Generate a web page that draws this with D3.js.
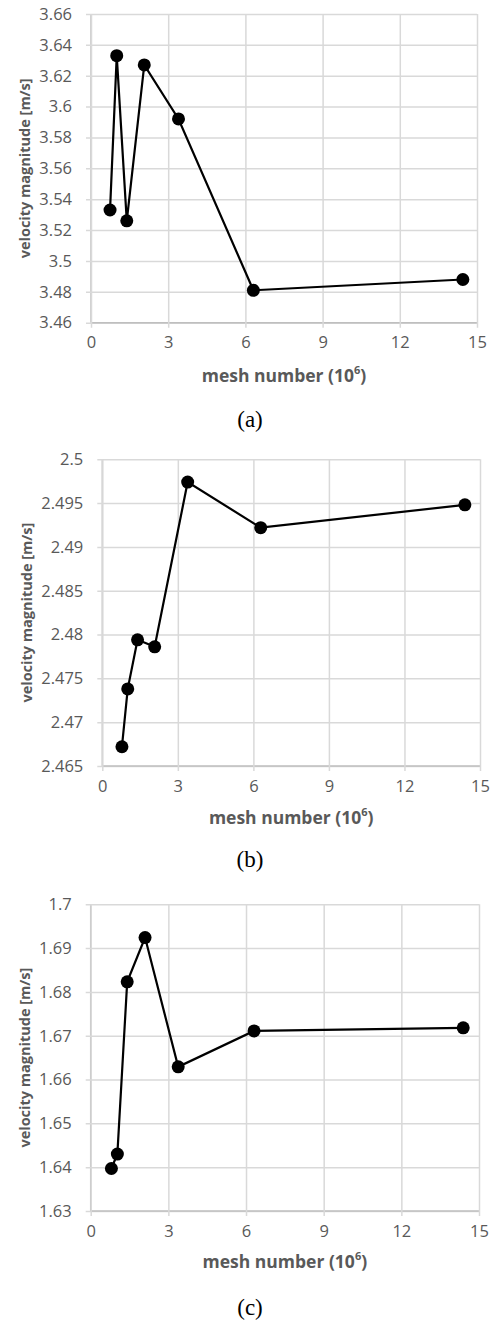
<!DOCTYPE html>
<meta charset="utf-8">
<title>Velocity magnitude vs mesh number</title>
<style>
    body {
        margin: 0;
        background: #fff;
    }

    svg {
        display: block;
    }

    .grid line {
        stroke: #d9d9d9;
        stroke-width: 1.5px;
    }

    .grid path {
        stroke: #bfbfbf;
        stroke-width: 1.5px;
    }

    .tick text {
        fill: #595959;
        font-family: "Open Sans", sans-serif;
        font-size: 16.5px;
    }

    .title {
        fill: #595959;
        font-family: "Open Sans", sans-serif;
        font-weight: bold;
    }

    .caption {
        fill: #000;
        font-family: "Liberation Serif", serif;
        font-size: 23px;
    }
</style>

<body>
    <svg width="492" height="1323"></svg>

    <script src="https://d3js.org/d3.v7.min.js"></script>
    <script>
        // mesh number (10^6), read per panel
        const meshA = [0.74, 1.0, 1.39, 2.07, 3.40, 6.31, 14.45];
        const meshB = [0.78, 1.01, 1.40, 2.08, 3.39, 6.29, 14.40];
        const meshC = [0.80, 1.03, 1.41, 2.10, 3.38, 6.31, 14.39];

        // velocity magnitude [m/s]
        const velA = [3.533, 3.633, 3.526, 3.627, 3.592, 3.481, 3.488];
        const velB = [2.4672, 2.4738, 2.4794, 2.4786, 2.4974, 2.4922, 2.4948];
        const velC = [1.6397, 1.6430, 1.6823, 1.6924, 1.6629, 1.6711, 1.6718];

        // tick labels
        const xTicks = [0, 3, 6, 9, 12, 15];
        const yTicksA = [3.46, 3.48, 3.5, 3.52, 3.54, 3.56, 3.58, 3.6, 3.62, 3.64, 3.66];
        const yTicksB = [2.465, 2.47, 2.475, 2.48, 2.485, 2.49, 2.495, 2.5];
        const yTicksC = [1.63, 1.64, 1.65, 1.66, 1.67, 1.68, 1.69, 1.7];

        const captions = ["(a)", "(b)", "(c)"];

        const panels = [
            { x: meshA, y: velA, yTicks: yTicksA, left: 91, right: 477, top: 14, bottom: 322.7, xTitleY: 377, capY: 422, yTitleX: 26 },
            { x: meshB, y: velB, yTicks: yTicksB, left: 102.3, right: 480, top: 459.3, bottom: 766, xTitleY: 819, capY: 862, yTitleX: 28 },
            { x: meshC, y: velC, yTicks: yTicksC, left: 90.7, right: 479, top: 904.3, bottom: 1211, xTitleY: 1263, capY: 1310, yTitleX: 26 }
        ];

        const svg = d3.select("svg");

        panels.forEach((p, i) => {
            const w = p.right - p.left;
            const h = p.bottom - p.top;
            const x = d3.scaleLinear().domain([0, 15]).range([0, w]);
            const y = d3.scaleLinear().domain(d3.extent(p.yTicks)).range([h, 0]);
            const fmt = d => String(+d.toFixed(3));

            const g = svg.append("g").attr("transform", `translate(${p.left},${p.top})`);

            // horizontal grid + left axis
            const gy = g.append("g").attr("class", "grid")
                .call(d3.axisLeft(y).tickValues(p.yTicks).tickFormat(fmt).tickSize(-w).tickPadding(19));
            gy.selectAll(".tick line").attr("x1", -5);
            gy.select(".domain").attr("d", `M0,0V${h}`);

            // vertical grid + bottom axis
            const gx = g.append("g").attr("class", "grid")
                .attr("transform", `translate(0,${h})`)
                .call(d3.axisBottom(x).tickValues(xTicks).tickSize(-h).tickPadding(16));
            gx.selectAll(".tick line").attr("y1", 5);
            gx.select(".domain").attr("d", `M0,0H${w}`);
            gx.selectAll(".tick text").attr("dy", "0.71em").attr("y", 14);

            const pts = p.x.map((v, k) => [v, p.y[k]]);

            g.append("path")
                .datum(pts)
                .attr("fill", "none")
                .attr("stroke", "#000")
                .attr("stroke-width", 2.2)
                .attr("d", d3.line().x(d => x(d[0])).y(d => y(d[1])));

            g.selectAll("circle")
                .data(pts)
                .join("circle")
                .attr("cx", d => x(d[0]))
                .attr("cy", d => y(d[1]))
                .attr("r", 6.5)
                .attr("fill", "#000");

            // axis titles
            const xt = svg.append("text")
                .attr("class", "title")
                .attr("font-size", "17.5px")
                .attr("x", p.left + w / 2)
                .attr("y", p.xTitleY)
                .attr("text-anchor", "middle")
                .attr("dominant-baseline", "middle");
            xt.append("tspan").text("mesh number (10");
            xt.append("tspan").attr("font-size", "11px").attr("dy", "-6").text("6");
            xt.append("tspan").attr("dy", "6").text(")");

            svg.append("text")
                .attr("class", "title")
                .attr("font-size", "14.5px")
                .attr("transform", `translate(${p.yTitleX},${p.top + h / 2}) rotate(-90)`)
                .attr("text-anchor", "middle")
                .attr("dominant-baseline", "middle")
                .text("velocity magnitude [m/s]");

            svg.append("text")
                .attr("class", "caption")
                .attr("x", 250)
                .attr("y", p.capY)
                .attr("text-anchor", "middle")
                .attr("dominant-baseline", "middle")
                .text(captions[i]);
        });
    </script>
</body>

</html>
